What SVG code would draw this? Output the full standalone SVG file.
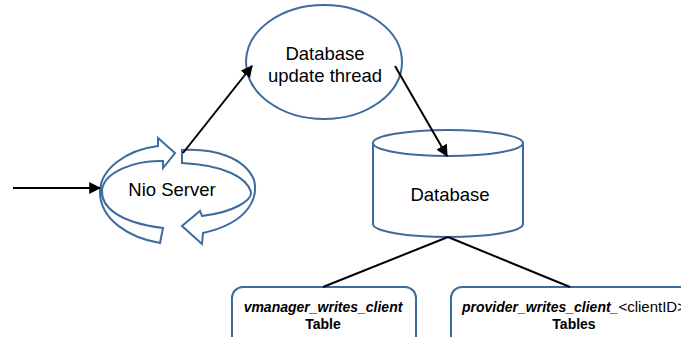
<svg xmlns="http://www.w3.org/2000/svg" width="681" height="337" viewBox="0 0 681 337">
<defs>
<style>
.shape{fill:#fff;stroke:#3d6b9e;stroke-width:2}
.conn{stroke:#000;stroke-width:2;fill:none}
.lbl{font-family:"Liberation Sans",Arial,sans-serif;font-size:18.5px;fill:#000;text-anchor:middle}
.tbl{font-family:"Liberation Sans",Arial,sans-serif;font-size:14px;font-weight:bold;fill:#000}
</style>
<marker id="ah" viewBox="0 0 10 10" refX="9" refY="5" markerWidth="6" markerHeight="6" orient="auto-start-reverse">
<path d="M0,0 L10,5 L0,10 Z" fill="#000"/>
</marker>
</defs>
<rect width="681" height="337" fill="#fff"/>
<g id="nio-server">
<path class="shape" d="M160,243 C130,238 100,220 100,192 C100,170 125,150 158,146 L158,138 L175,153 L163,168 L163,161 C135,160 104,172 102,190 C101,205 115,222 163,228 Z"/>
<path class="shape" d="M182,150 C215,148 245,158 254,180 C258,195 252,222 203,233 L202,244 L182,226 L200,211 L202,216 C235,212 252,200 251,192 C247,178 225,165 182,163 Z"/>
<text class="lbl" x="172" y="196">Nio Server</text>
</g>
<g id="update-thread">
<ellipse class="shape" cx="324" cy="62" rx="78" ry="57"/>
<text class="lbl" x="325" y="60">Database</text>
<text class="lbl" x="325" y="82">update thread</text>
</g>
<g id="database">
<path class="shape" d="M373,143 L373,224 A75,13 0 0 0 523,224 L523,143"/>
<ellipse class="shape" cx="448" cy="143" rx="75" ry="13"/>
<text class="lbl" x="450" y="201">Database</text>
</g>
<g id="vmanager-table">
<rect class="shape" x="232" y="287" width="184" height="70" rx="11"/>
<text class="tbl" x="323" y="312" text-anchor="middle" font-style="italic">vmanager_writes_client</text>
<text class="tbl" x="323" y="329" text-anchor="middle">Table</text>
</g>
<g id="provider-tables">
<rect class="shape" x="451" y="287" width="246" height="70" rx="11"/>
<text class="tbl" x="462" y="312"><tspan font-style="italic">provider_writes_client_</tspan><tspan font-weight="normal" font-size="15px">&lt;clientID&gt;</tspan></text>
<text class="tbl" x="574" y="329" text-anchor="middle">Tables</text>
</g>
<g id="connectors">
<line class="conn" x1="13" y1="188" x2="100" y2="188" marker-end="url(#ah)"/>
<line class="conn" x1="183" y1="153" x2="252" y2="66" marker-end="url(#ah)"/>
<line class="conn" x1="395" y1="66" x2="447" y2="156" marker-end="url(#ah)"/>
<line class="conn" x1="448" y1="237" x2="323" y2="287"/>
<line class="conn" x1="448" y1="237" x2="570" y2="287"/>
</g>
</svg>
